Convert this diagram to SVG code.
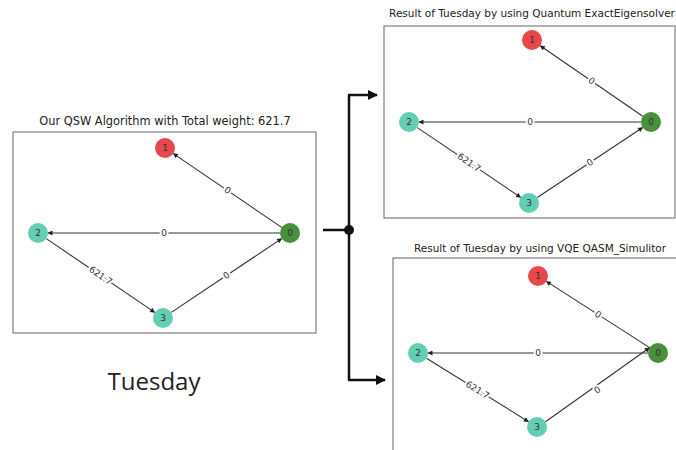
<svg xmlns="http://www.w3.org/2000/svg" width="676" height="450" viewBox="0 0 676 450">
<style>
.box{fill:none;stroke:#666;stroke-width:1}
.title{font-family:"DejaVu Sans",sans-serif;font-size:10.5px;fill:#222;text-anchor:middle}
.e{stroke:#333;stroke-width:1.1;fill:none}
.lbl{font-family:"DejaVu Sans",sans-serif;font-size:9px;fill:#333;text-anchor:middle;dominant-baseline:central;stroke:#fff;stroke-width:4;paint-order:stroke}
.nl{font-family:"DejaVu Sans",sans-serif;font-size:9px;fill:#333;text-anchor:middle;dominant-baseline:central}
.r{fill:#e8474c}
.g{fill:#4a8f3e}
.t{fill:#62cfb4}
.c{stroke:#111;stroke-width:2.5;fill:none}
</style>
<defs>
<marker id="ah" viewBox="0 0 10 10" refX="9" refY="5" markerWidth="6" markerHeight="5" orient="auto" markerUnits="userSpaceOnUse">
<path d="M0,0 L10,5 L0,10 z" fill="#222"/>
</marker>
<marker id="big" viewBox="0 0 10 10" refX="9" refY="5" markerWidth="12" markerHeight="10" orient="auto" markerUnits="userSpaceOnUse">
<path d="M0,0 L10,5 L0,10 z" fill="#111"/>
</marker>
</defs>

<g id="panel-left">
<text class="title" x="165" y="125" style="font-size:11.4px">Our QSW Algorithm with Total weight: 621.7</text>
<rect class="box" x="13" y="132" width="303" height="201"/>
<g id="left-edges">
<line class="e" x1="281.7" y1="227.4" x2="173.3" y2="153.6" marker-start="url(#ah)" marker-end="url(#ah)"/>
<line class="e" x1="280" y1="233" x2="48" y2="233" marker-end="url(#ah)"/>
<line class="e" x1="46.3" y1="238.6" x2="154.7" y2="312.4" marker-end="url(#ah)"/>
<line class="e" x1="171.3" y1="312.4" x2="281.7" y2="238.6" marker-end="url(#ah)"/>
<text class="lbl" x="227.5" y="190.5" transform="rotate(34.2 227.5 190.5)">0</text>
<text class="lbl" x="164" y="233">0</text>
<text class="lbl" x="100.5" y="275.5" transform="rotate(34.2 100.5 275.5)">621.7</text>
<text class="lbl" x="226.5" y="275.5" transform="rotate(-33.8 226.5 275.5)">0</text>
</g>
<g id="left-n1"><circle class="r" cx="165" cy="148" r="10"/><text class="nl" x="165" y="148">1</text></g>
<g id="left-n0"><circle class="g" cx="290" cy="233" r="10"/><text class="nl" x="290" y="233">0</text></g>
<g id="left-n2"><circle class="t" cx="38" cy="233" r="10"/><text class="nl" x="38" y="233">2</text></g>
<g id="left-n3"><circle class="t" cx="163" cy="318" r="10"/><text class="nl" x="163" y="318">3</text></g>
</g>

<g id="panel-top">
<text class="title" x="532" y="17">Result of Tuesday by using Quantum ExactEigensolver</text>
<rect class="box" x="384" y="26" width="291" height="192"/>
<g id="top-edges">
<line class="e" x1="642.8" y1="116.3" x2="540.2" y2="45.7" marker-start="url(#ah)" marker-end="url(#ah)"/>
<line class="e" x1="641" y1="122" x2="419" y2="122" marker-end="url(#ah)"/>
<line class="e" x1="417.3" y1="127.6" x2="520.7" y2="197.4" marker-end="url(#ah)"/>
<line class="e" x1="537.3" y1="197.5" x2="642.7" y2="127.5" marker-end="url(#ah)"/>
<text class="lbl" x="591.5" y="81" transform="rotate(34.6 591.5 81)">0</text>
<text class="lbl" x="530" y="122">0</text>
<text class="lbl" x="469" y="162.5" transform="rotate(34 469 162.5)">621.7</text>
<text class="lbl" x="590" y="162.5" transform="rotate(-33.6 590 162.5)">0</text>
</g>
<g id="top-n1"><circle class="r" cx="532" cy="40" r="10"/><text class="nl" x="532" y="40">1</text></g>
<g id="top-n0"><circle class="g" cx="651" cy="122" r="10"/><text class="nl" x="651" y="122">0</text></g>
<g id="top-n2"><circle class="t" cx="409" cy="122" r="10"/><text class="nl" x="409" y="122">2</text></g>
<g id="top-n3"><circle class="t" cx="529" cy="203" r="10"/><text class="nl" x="529" y="203">3</text></g>
</g>

<g id="panel-bottom">
<text class="title" x="540" y="252">Result of Tuesday by using VQE QASM_Simulitor</text>
<rect class="box" x="393" y="258" width="290" height="200"/>
<g id="bottom-edges">
<line class="e" x1="649.6" y1="347.6" x2="546.4" y2="281.4" marker-start="url(#ah)" marker-end="url(#ah)"/>
<line class="e" x1="648" y1="353" x2="428" y2="353" marker-end="url(#ah)"/>
<line class="e" x1="426.5" y1="358.3" x2="528.5" y2="421.7" marker-end="url(#ah)"/>
<line class="e" x1="545.5" y1="421.8" x2="649.5" y2="347.8" marker-end="url(#ah)"/>
<text class="lbl" x="598" y="314.5" transform="rotate(32.7 598 314.5)">0</text>
<text class="lbl" x="538" y="353">0</text>
<text class="lbl" x="477.5" y="390" transform="rotate(31.9 477.5 390)">621.7</text>
<text class="lbl" x="597.5" y="390" transform="rotate(-31.5 597.5 390)">0</text>
</g>
<g id="bottom-n1"><circle class="r" cx="538" cy="276" r="10"/><text class="nl" x="538" y="276">1</text></g>
<g id="bottom-n0"><circle class="g" cx="658" cy="353" r="10"/><text class="nl" x="658" y="353">0</text></g>
<g id="bottom-n2"><circle class="t" cx="418" cy="353" r="10"/><text class="nl" x="418" y="353">2</text></g>
<g id="bottom-n3"><circle class="t" cx="537" cy="427" r="10"/><text class="nl" x="537" y="427">3</text></g>
</g>

<g id="connectors">
<line class="c" x1="323" y1="230" x2="349" y2="230"/>
<path class="c" d="M349,95 L349,380"/>
<line class="c" x1="348" y1="95" x2="377" y2="95" marker-end="url(#big)"/>
<line class="c" x1="348" y1="380" x2="385" y2="380" marker-end="url(#big)"/>
<circle cx="349" cy="230" r="5" fill="#111"/>
</g>

<g id="caption">
<text x="154" y="390" font-family="'Open Sans',sans-serif" font-size="24" fill="#222" text-anchor="middle">Tuesday</text>
</g>
</svg>
